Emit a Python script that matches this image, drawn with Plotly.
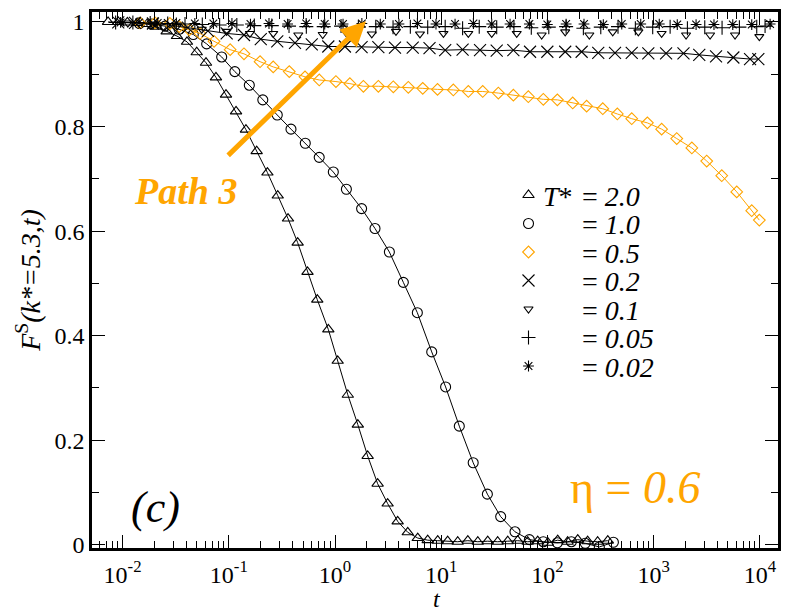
import plotly.graph_objects as go

# T* = 2.0 (up triangles)
t_20 = [0.0073, 0.0091, 0.0111, 0.0137, 0.0170, 0.0209, 0.0260, 0.0325, 0.0404, 0.0499,
        0.0610, 0.0757, 0.0941, 0.117, 0.145, 0.183, 0.231, 0.289, 0.361, 0.445,
        0.551, 0.681, 0.865, 1.06, 1.32, 1.64, 2.03, 2.52, 3.13, 3.89,
        4.84, 6.01, 7.46, 9.27, 11.5, 14.3, 17.8, 22.1, 27.4, 34.0,
        42.3, 52.5, 65.2, 81.0, 101, 125, 155, 193, 239, 297, 370]
f_20 = [1.000, 1.000, 0.999, 0.998, 0.996, 0.991, 0.982, 0.973, 0.962, 0.942,
        0.922, 0.894, 0.861, 0.829, 0.794, 0.753, 0.712, 0.668, 0.624, 0.578,
        0.522, 0.469, 0.412, 0.352, 0.287, 0.230, 0.170, 0.117, 0.079, 0.045,
        0.024, 0.013, 0.009, 0.008, 0.007, 0.006, 0.008, 0.006, 0.007, 0.006,
        0.007, 0.008, 0.006, 0.007, 0.004, 0.009, 0.006, 0.010, 0.007, 0.006, 0.008]

# T* = 1.0 (circles)
t_10 = [0.0144, 0.0188, 0.0251, 0.0340, 0.0463, 0.0619, 0.0857, 0.114, 0.156, 0.209,
        0.286, 0.385, 0.525, 0.710, 0.964, 1.28, 1.78, 2.38, 3.25, 4.40,
        5.96, 8.14, 11.0, 14.8, 20.0, 27.2, 36.3, 49.5, 67.6, 91.5,
        124, 168, 227, 308, 418]
f_10 = [0.997, 0.996, 0.992, 0.986, 0.976, 0.958, 0.933, 0.905, 0.879, 0.851,
        0.822, 0.795, 0.768, 0.741, 0.713, 0.680, 0.643, 0.605, 0.560, 0.502,
        0.444, 0.369, 0.302, 0.227, 0.157, 0.097, 0.054, 0.025, 0.010, 0.006,
        0.004, 0.006, 0.003, -0.004, 0.005]

# T* = 0.5 (diamonds)
t_05 = [0.0146, 0.0202, 0.0279, 0.0342, 0.0425, 0.0536, 0.0726, 0.103, 0.139, 0.197,
        0.262, 0.371, 0.522, 0.711, 1.02, 1.38, 1.85, 2.56, 3.54, 4.90,
        6.70, 9.23, 13.0, 18.0, 24.6, 34.5, 47.8, 66.1, 91.5, 124,
        173, 234, 332, 455, 622, 873, 1190, 1650, 2290, 3160,
        4380, 6060, 8390, 9890]
f_05 = [0.998, 0.998, 0.997, 0.991, 0.985, 0.978, 0.963, 0.947, 0.939, 0.924,
        0.914, 0.905, 0.895, 0.889, 0.886, 0.882, 0.877, 0.877, 0.876, 0.875,
        0.873, 0.871, 0.870, 0.867, 0.867, 0.864, 0.860, 0.857, 0.852, 0.851,
        0.845, 0.839, 0.834, 0.824, 0.815, 0.807, 0.795, 0.777, 0.759, 0.734,
        0.706, 0.675, 0.639, 0.621]

# T* = 0.2 (crosses)
t_02 = [0.0091, 0.0131, 0.0193, 0.0279, 0.0412, 0.0636, 0.0955, 0.139, 0.200, 0.286,
        0.420, 0.604, 0.865, 1.24, 1.78, 2.56, 3.67, 5.39, 7.76, 10.9,
        15.9, 23.2, 33.3, 47.8, 68.6, 99.8, 147, 210, 301, 433,
        622, 891, 1310, 1910, 2690, 3870, 5630, 8090, 9680]
f_02 = [0.999, 0.998, 0.997, 0.994, 0.989, 0.983, 0.978, 0.975, 0.967, 0.963,
        0.960, 0.957, 0.953, 0.953, 0.952, 0.952, 0.951, 0.951, 0.950, 0.946,
        0.947, 0.946, 0.945, 0.946, 0.943, 0.943, 0.943, 0.943, 0.941, 0.941,
        0.941, 0.940, 0.940, 0.940, 0.937, 0.934, 0.932, 0.929, 0.929]

# T* = 0.1 (down triangles)
t_01 = [0.0112, 0.0193, 0.0325, 0.0556, 0.0955, 0.158, 0.262, 0.451, 0.766, 1.30,
        2.22, 3.75, 6.31, 10.5, 18.0, 29.9, 51.4, 88.3, 147, 248,
        412, 718, 1190, 2020, 3400, 5840, 9890]
f_01 = [0.998, 0.996, 0.992, 0.986, 0.982, 0.978, 0.978, 0.975, 0.976, 0.977,
        0.977, 0.982, 0.977, 0.978, 0.978, 0.978, 0.978, 0.975, 0.981, 0.975,
        0.981, 0.981, 0.978, 0.975, 0.975, 0.975, 0.972]

# T* = 0.05 (plus)
t_005 = [0.0086, 0.0125, 0.0182, 0.0266, 0.0387, 0.0563, 0.0820, 0.119, 0.174, 0.254,
         0.369, 0.537, 0.783, 1.14, 1.66, 2.42, 3.52, 5.12, 7.46, 10.9,
         15.9, 22.8, 33.3, 48.4, 70.5, 103, 150, 218, 318, 462,
         673, 980, 1430, 2080, 3030, 4410, 6420, 9350, 11200]
f_005 = [0.999, 0.999, 0.998, 0.997, 0.996, 0.995, 0.994, 0.994, 0.993, 0.993,
         0.992, 0.991, 0.991, 0.992, 0.990, 0.991, 0.990, 0.991, 0.990, 0.991,
         0.988, 0.991, 0.990, 0.991, 0.989, 0.990, 0.991, 0.988, 0.990, 0.991,
         0.988, 0.990, 0.991, 0.988, 0.990, 0.989, 0.990, 0.991, 0.992]

# T* = 0.02 (asterisks)
t_002 = [0.00958, 0.0143, 0.0214, 0.0321, 0.0479, 0.0716, 0.107, 0.160, 0.239, 0.358,
         0.535, 0.800, 1.19, 1.79, 2.67, 4.00, 5.97, 8.93, 13.5, 20.1,
         29.9, 44.5, 67.6, 99.8, 150, 221, 336, 501, 756, 1130,
         1670, 2510, 3700, 5560, 8390, 12500]
f_002 = [0.999, 0.999, 0.998, 0.998, 0.997, 0.997, 0.997, 0.996, 0.997, 0.996,
         0.997, 0.996, 0.996, 0.997, 0.996, 0.996, 0.997, 0.996, 0.996, 0.997,
         0.996, 0.996, 0.996, 0.995, 0.996, 0.996, 0.995, 0.996, 0.996, 0.996,
         0.995, 0.995, 0.995, 0.995, 0.995, 0.996]

labels = ["2.0", "1.0", "0.5", "0.2", "0.1", "0.05", "0.02"]
ORANGE = "#FFA500"
SERIF = '"Liberation Serif", "DejaVu Serif", serif'

series = [
    (t_20, f_20, "triangle-up-open", 10, "black", True),
    (t_10, f_10, "circle-open", 10, "black", True),
    (t_05, f_05, "diamond-open", 9, ORANGE, True),
    (t_02, f_02, "x-thin-open", 12, "black", True),
    (t_01, f_01, "triangle-down-open", 8, "black", False),
    (t_005, f_005, "cross-thin-open", 10, "black", False),
    (t_002, f_002, "asterisk-open", 9, "black", False),
]

# page offset of the figure (body margin) and plot area in window pixels
OFF = 8
X0, X1, Y0, Y1 = 92, 778, 12, 548


def px(x):
    return (x - X0) / (X1 - X0)


def py(y):
    return (Y1 - y) / (Y1 - Y0)


def label(x, y, text, size, color="black", xanchor="center"):
    fig.add_annotation(xref="paper", yref="paper", x=px(x), y=py(y), text=text,
                       showarrow=False, xanchor=xanchor, yanchor="middle",
                       font=dict(family=SERIF, size=size, color=color))


fig = go.Figure()

for t, f, sym, size, col, line in series:
    if line:
        fig.add_trace(go.Scatter(x=t, y=f, mode="lines",
                                 line=dict(color=col, width=1), showlegend=False))
    fig.add_trace(go.Scatter(x=t, y=f, mode="markers",
                             marker=dict(symbol=sym, size=size, color=col,
                                         line=dict(color=col, width=1.1)),
                             showlegend=False))

# hand-made legend (symbols on an overlay axis in plot fractions)
row_y = [195, 223.5, 252, 280.5, 309, 337.5, 366]
for (t, f, sym, size, col, line), ry, lab in zip(series, row_y, labels):
    fig.add_trace(go.Scatter(x=[px(528.5)], y=[py(ry)], mode="markers",
                             xaxis="x2", yaxis="y2", showlegend=False,
                             marker=dict(symbol=sym, size=size, color=col,
                                         line=dict(color=col, width=1.1))))
    label(580, ry + 1, "= <i>" + lab + "</i>", 28, xanchor="left")
label(541, row_y[0] + 1, "<i>T</i>*", 28, xanchor="left")

# panel texts
label(155, 507, "<i>(c)</i>", 44)
label(568, 487, "η = <i>0.6</i>", 46, ORANGE, xanchor="left")
label(185, 191, "<b><i>Path 3</i></b>", 38, ORANGE)
label(437, 599, "<i>t</i>", 24)

# Path 3 arrow
fig.add_annotation(x=0.292, y=1.0015, ax=-1.02, ay=0.742,
                   xref="x", yref="y", axref="x", ayref="y",
                   text="", showarrow=True, arrowhead=2, arrowsize=1.0,
                   arrowwidth=5, arrowcolor=ORANGE)

tick_font = dict(family=SERIF, size=24, color="black")

fig.update_layout(
    width=792 - OFF, height=612 - OFF,
    margin=dict(l=X0 - OFF, r=792 - X1, t=Y0 - OFF, b=612 - Y1, autoexpand=False),
    paper_bgcolor="white", plot_bgcolor="white",
    showlegend=False,
    xaxis=dict(
        type="log", range=[-2.288, 4.171],
        tickvals=[0.01, 0.1, 1, 10, 100, 1000, 10000],
        ticktext=["10<sup>-2</sup>", "10<sup>-1</sup>", "10<sup>0</sup>", "10<sup>1</sup>",
                  "10<sup>2</sup>", "10<sup>3</sup>", "10<sup>4</sup>"],
        ticks="inside", ticklen=13, tickwidth=1.2, tickcolor="black",
        minor=dict(ticks="inside", ticklen=7, tickwidth=1.2, tickcolor="black", dtick="D1"),
        showline=True, linewidth=2.5, linecolor="black", mirror="allticks",
        showgrid=False, zeroline=False, tickfont=tick_font, ticklabelstandoff=3,
    ),
    yaxis=dict(
        range=[-0.006, 1.019],
        tickvals=[0, 0.2, 0.4, 0.6, 0.8, 1.0],
        ticktext=["0", "0.2", "0.4", "0.6", "0.8", "1"],
        ticks="inside", ticklen=13, tickwidth=1.2, tickcolor="black",
        minor=dict(ticks="inside", ticklen=7, tickwidth=1.2, tickcolor="black", dtick=0.1),
        showline=True, linewidth=2.5, linecolor="black", mirror="allticks",
        showgrid=False, zeroline=False, tickfont=tick_font,
        title=dict(text="<i>F</i><sup>S</sup><i>(k*=5.3,t)</i>",
                   font=dict(family=SERIF, size=28, color="black"),
                   standoff=6),
    ),
    xaxis2=dict(overlaying="x", range=[0, 1], visible=False, anchor="y2"),
    yaxis2=dict(overlaying="y", range=[0, 1], visible=False, anchor="x2"),
)

fig.write_html("out.html")
